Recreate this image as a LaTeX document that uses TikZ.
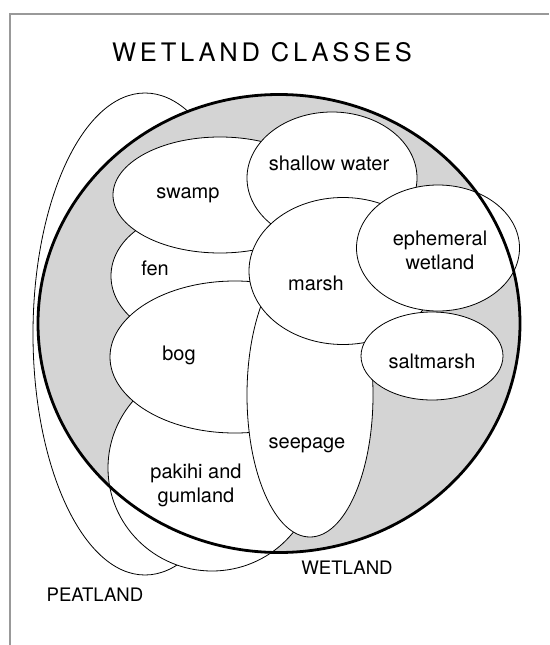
\documentclass[tikz,border=0pt]{standalone}
\usepackage{fontspec}
\setmainfont{TeX Gyre Heros}
\newfontfamily\titlefont[LetterSpace=15]{TeX Gyre Heros}
\usepackage{tikz}

\begin{document}
\begin{tikzpicture}[
  x=1pt, y=-1pt,
  border/.style={draw=black!40, line width=2pt},
  zone/.style={draw, fill=white, line width=0.8pt},
  wetfill/.style={fill=black!17},
  wetline/.style={draw, line width=2.8pt},
  lbl/.style={font=\fontsize{20}{24}\selectfont, anchor=base, align=center, inner sep=0pt},
  caps/.style={lbl, font=\fontsize{18.6}{22}\selectfont},
  heading/.style={font=\titlefont\fontsize{25.5}{30}\selectfont, anchor=base, inner sep=0pt}
]
\useasboundingbox (0,0) rectangle (549,645);
\draw[border] (9.5,645) -- (9.5,13.5) -- (549,13.5);
\node[heading] (title) at (262,61) {WETLAND CLASSES};

\draw[zone] (145,334) ellipse [x radius=112, y radius=241];
\fill[wetfill] (279,323.5) ellipse [x radius=241, y radius=229];
\draw[zone] (195,276) ellipse [x radius=84, y radius=64];
\draw[zone] (212,468) ellipse [x radius=104, y radius=103];
\draw[zone] (235,357) ellipse [x radius=125, y radius=76];
\draw[zone] (220,195) ellipse [x radius=107, y radius=58];
\draw[zone] (310,395) ellipse [x radius=63, y radius=142];
\draw[zone] (332,178) ellipse [x radius=85, y radius=66];
\draw[zone] (343,271) ellipse [x radius=94, y radius=73.5];
\draw[zone] (438,248) ellipse [x radius=81.5, y radius=63];
\draw[zone] (432,356) ellipse [x radius=71, y radius=44];
\draw[wetline] (279,323.5) ellipse [x radius=241, y radius=229];

\node[lbl] (swamp) at (188,198) {swamp};
\node[lbl] (fen) at (155,275) {fen};
\node[lbl] (bog) at (179,360) {bog};
\node[lbl] (shallow) at (329,170) {shallow water};
\node[lbl] (ephemeral) at (440,269) {ephemeral\\wetland};
\node[lbl] (marsh) at (316,290) {marsh};
\node[lbl] (saltmarsh) at (432,368) {saltmarsh};
\node[lbl] (seepage) at (307,448) {seepage};
\node[lbl] (pakihi) at (196,502) {pakihi and\\gumland};
\node[caps] (wetland) at (347,574) {WETLAND};
\node[caps] (peatland) at (95,601) {PEATLAND};
\end{tikzpicture}
\end{document}
